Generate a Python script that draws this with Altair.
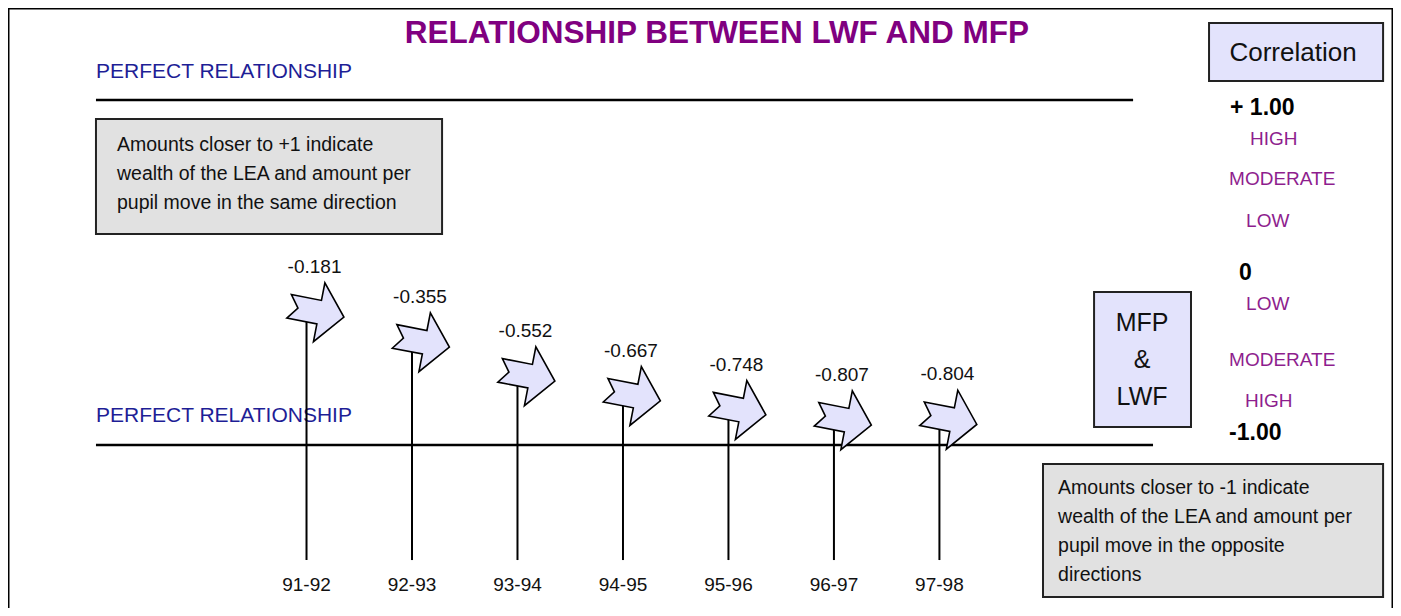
import altair as alt
import pandas as pd

# ---------------- data ----------------
years = ["91-92", "92-93", "93-94", "94-95", "95-96", "96-97", "97-98"]
correlations = [-0.181, -0.355, -0.552, -0.667, -0.748, -0.807, -0.804]

scale_labels = ["+ 1.00", "HIGH", "MODERATE", "LOW", "0", "LOW", "MODERATE", "HIGH", "-1.00"]
scale_label_pos = [0.954, 0.774, 0.542, 0.299, -0.003, -0.183, -0.507, -0.745, -0.930]
scale_label_x = [8.755, 8.945, 8.746, 8.907, 8.841, 8.907, 8.746, 8.897, 8.746]
scale_label_kind = ["num", "lvl", "lvl", "lvl", "num", "lvl", "lvl", "lvl", "num"]

title_text = "RELATIONSHIP BETWEEN LWF AND MFP"
perfect_text = "PERFECT RELATIONSHIP"
note_pos = "Amounts closer to +1 indicate\nwealth of the LEA and amount per\npupil move in the same direction"
note_neg = "Amounts closer to -1 indicate\nwealth of the LEA and amount per\npupil move in the opposite\ndirections"
corr_box_text = "Correlation"
mfp_box_text = "MFP\n&\nLWF"

# ---------------- layout ----------------
W, H = 1385, 600
X_DOM = [-2.83, 10.30]
Y_DOM = [-1.945, 1.533]
STEM_BOTTOM = -1.667
YEAR_LABEL_Y = -1.812

FONT = "Liberation Sans, Arial, sans-serif"
PURPLE = "#800080"
LEVEL = "#8E1E8E"
BLUE = "#1E1E96"
LAV = "#E3E3FC"
GRAY = "#E1E1E1"

xs = alt.Scale(domain=X_DOM, nice=False, zero=False)
ys = alt.Scale(domain=Y_DOM, nice=False, zero=False)

def X(f="x"):
    return alt.X(f"{f}:Q", scale=xs, axis=None)

def Y(f="y"):
    return alt.Y(f"{f}:Q", scale=ys, axis=None)

df = pd.DataFrame({
    "year": years,
    "idx": list(range(len(years))),
    "corr": correlations,
    "lbl": [f"{v:.3f}" for v in correlations],
})

# frame
frame = pd.DataFrame({
    "x": [X_DOM[0], X_DOM[0], X_DOM[1]],
    "x2": [X_DOM[1], X_DOM[0], X_DOM[1]],
    "y": [Y_DOM[1], Y_DOM[1], Y_DOM[1]],
    "y2": [Y_DOM[1], Y_DOM[0], Y_DOM[0]],
})
frame_layer = alt.Chart(frame).mark_rule(color="black", strokeWidth=3).encode(
    x=X(), x2="x2:Q", y=Y(), y2="y2:Q")

# perfect relationship lines (+1 and -1)
lines = pd.DataFrame({"x": [-1.996, -1.996], "x2": [7.836, 8.025], "y": [1.0, -1.0]})
line_layer = alt.Chart(lines).mark_rule(color="black", strokeWidth=2.5).encode(
    x=X(), x2="x2:Q", y=Y())

perf = pd.DataFrame({"x": [-1.996, -1.996], "y": [1.1275, -0.867], "t": [perfect_text, perfect_text]})
perf_layer = alt.Chart(perf).mark_text(
    align="left", baseline="alphabetic", font=FONT, fontSize=21, color=BLUE
).encode(x=X(), y=Y(), text="t:N")

title_layer = alt.Chart(pd.DataFrame({"x": [3.89], "y": [1.383], "t": [title_text]})).mark_text(
    align="center", baseline="middle", font=FONT,
    fontSize=31.5, fontWeight="bold", color=PURPLE
).encode(x=X(), y=Y(), text="t:N")

# boxes
boxes = pd.DataFrame({
    "x": [-1.996, 6.982, 8.556, 7.466],
    "x2": [1.285, 10.206, 10.206, 8.385],
    "y": [0.890, -1.110, 1.446, -0.113],
    "y2": [0.223, -1.881, 1.110, -0.896],
    "kind": ["gray", "gray", "lav", "lav"],
})
box_layer = alt.Chart(boxes).mark_rect(stroke="#222222", strokeWidth=2).encode(
    x=X(), x2="x2:Q", y=Y(), y2="y2:Q",
    fill=alt.Fill("kind:N", scale=alt.Scale(domain=["gray", "lav"], range=[GRAY, LAV]), legend=None))

notes = pd.DataFrame({"x": [-1.797, 7.125], "y": [0.739, -1.249], "t": [note_pos, note_neg]})
notes_layer = alt.Chart(notes).mark_text(
    align="left", baseline="middle", font=FONT, fontSize=19.5, lineHeight=29,
    lineBreak="\n", color="#111111"
).encode(x=X(), y=Y(), text="t:N")

corr_layer = alt.Chart(pd.DataFrame({"x": [9.352], "y": [1.272], "t": [corr_box_text]})).mark_text(
    align="center", baseline="middle", font=FONT, fontSize=26, color="#111111"
).encode(x=X(), y=Y(), text="t:N")

mfp_layer = alt.Chart(pd.DataFrame({"x": [7.921], "y": [-0.293], "t": [mfp_box_text]})).mark_text(
    align="center", baseline="middle", font=FONT, fontSize=25, lineHeight=37,
    lineBreak="\n", color="#111111"
).encode(x=X(), y=Y(), text="t:N")

# right-side correlation scale
sl = pd.DataFrame({"x": scale_label_x, "y": scale_label_pos, "t": scale_labels, "k": scale_label_kind})
num_layer = alt.Chart(sl).transform_filter(alt.datum.k == "num").mark_text(
    align="left", baseline="middle", font=FONT, fontSize=23, fontWeight="bold", color="#000000"
).encode(x=X(), y=Y(), text="t:N")
lvl_layer = alt.Chart(sl).transform_filter(alt.datum.k == "lvl").mark_text(
    align="left", baseline="middle", font=FONT, fontSize=19, color=LEVEL
).encode(x=X(), y=Y(), text="t:N")

# stems, arrows, value labels, year labels
stem_layer = alt.Chart(df).mark_rule(color="black", strokeWidth=2).encode(
    x=X("idx"), y=Y("corr"), y2=alt.datum(STEM_BOTTOM))

ARROW = "M -0.93 -0.4 L 0.09 -0.4 L 0.09 -1 L 0.93 0 L 0.09 1 L 0.09 0.4 L -0.93 0.4 L -0.63 0 Z"
arrow_layer = alt.Chart(df).mark_point(
    shape=ARROW, size=3600, angle=11, filled=True, fill=LAV, stroke="black",
    strokeWidth=1.6, opacity=1, xOffset=10, yOffset=8
).encode(x=X("idx"), y=Y("corr"))

val_layer = alt.Chart(df).mark_text(
    align="center", baseline="middle", font=FONT, fontSize=19, color="#111111", dx=8, dy=-37
).encode(x=X("idx"), y=Y("corr"), text="lbl:N")

year_layer = alt.Chart(df).mark_text(
    align="center", baseline="middle", font=FONT, fontSize=19, color="#111111"
).encode(x=X("idx"), y=alt.Y("yl:Q", scale=ys, axis=None), text="year:N").transform_calculate(
    yl=str(YEAR_LABEL_Y))

chart = alt.layer(
    frame_layer, line_layer, perf_layer, title_layer, box_layer, notes_layer, corr_layer,
    mfp_layer, num_layer, lvl_layer, stem_layer, arrow_layer, val_layer, year_layer
).properties(
    width=W, height=H, padding=0, autosize=alt.AutoSizeParams(type="none"),
    background="white"
).configure_view(stroke="transparent")

chart.save("out.html", embed_options={"renderer": "svg", "actions": False})
